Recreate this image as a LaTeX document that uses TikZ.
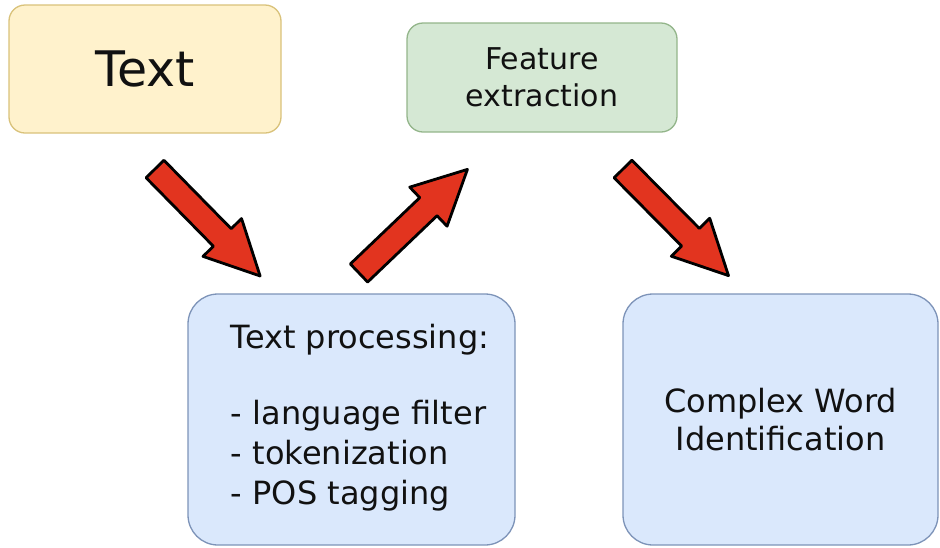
\documentclass[tikz,border=0pt]{standalone}
\usepackage{fontspec}
\setmainfont{DejaVu Sans}
\definecolor{inyellow}{HTML}{FFF2CC}
\definecolor{inyellowline}{HTML}{D9C27A}
\definecolor{featgreen}{HTML}{D5E8D4}
\definecolor{featgreenline}{HTML}{93B58A}
\definecolor{procblue}{HTML}{DAE8FC}
\definecolor{procblueline}{HTML}{7D93B8}
\definecolor{flowred}{HTML}{E2341F}
\definecolor{inktext}{HTML}{111111}
\tikzset{
  box/.style={draw, rounded corners=#1, line width=1.3pt, text=inktext},
  flowarrow/.style={draw=black, fill=flowred, line width=2.8pt, line join=round},
  blockarrow/.pic={
    \path[flowarrow] (0,-12.5) -- (96,-12.5) -- (96,-27) -- (150,0)
      -- (96,27) -- (96,12.5) -- (0,12.5) -- cycle;
  }
}
\begin{document}
\begin{tikzpicture}[x=1pt, y=-1pt]
\useasboundingbox (0,0) rectangle (940,547);

% input, feature and output boxes
\node[box=16pt, fill=inyellow, draw=inyellowline,
      minimum width=272pt, minimum height=128pt,
      font=\fontsize{49}{58}\selectfont] (text) at (145,69) {Text};
\node[box=16pt, fill=featgreen, draw=featgreenline,
      minimum width=270pt, minimum height=109pt, align=center,
      font=\fontsize{30}{37}\selectfont] (feat) at (542,77.5) {Feature\\extraction};
\node[box=30pt, fill=procblue, draw=procblueline,
      minimum width=327pt, minimum height=251pt] (proc) at (351.5,419.5) {};
\node[align=left, inner sep=0pt, text=inktext,
      font=\fontsize{32}{40}\selectfont] (proctext) at (360,418)
  {Text processing:\\[36pt]- language filter\\- tokenization\\- POS tagging};
\node[box=30pt, fill=procblue, draw=procblueline,
      minimum width=315pt, minimum height=251pt, align=center,
      font=\fontsize{32}{38}\selectfont] (cwi) at (780.5,419.5) {Complex Word\\Identification};

% flow arrows between the stages
\coordinate (a1) at (155,169);
\coordinate (a2) at (359,273);
\coordinate (a3) at (623,169);
\pic[rotate=-45.5] at (a1) {blockarrow};
\pic[rotate=43.7] at (a2) {blockarrow};
\pic[rotate=-45.3] at (a3) {blockarrow};
\end{tikzpicture}
\end{document}
